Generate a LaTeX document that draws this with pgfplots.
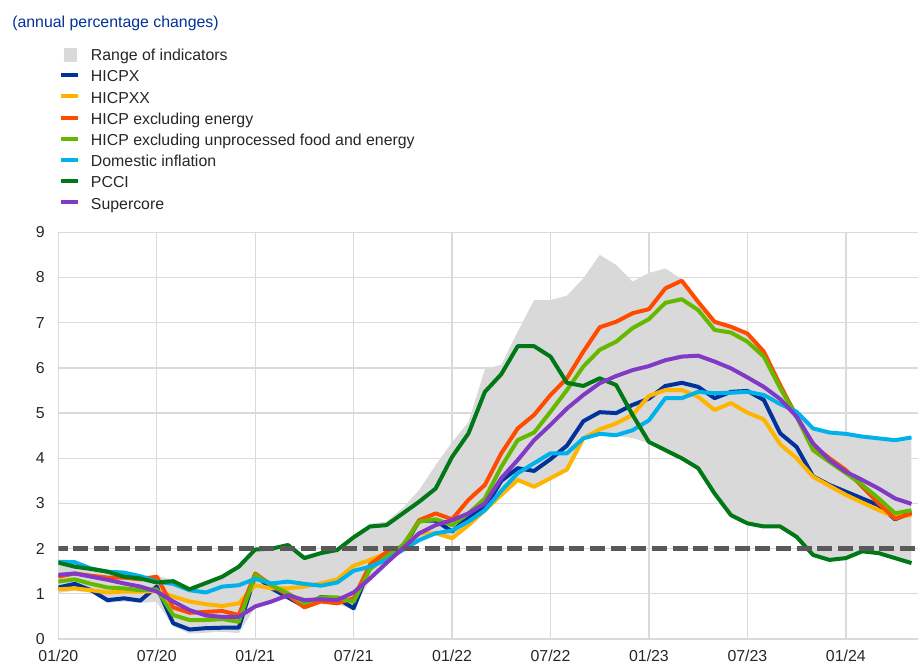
\documentclass[border=0pt]{standalone}
\usepackage{fontspec}
\setmainfont{Liberation Sans}
\usepackage{pgfplots}
\pgfplotsset{compat=1.18}
\usepackage{pgfplotstable}
\usepgfplotslibrary{fillbetween}
\definecolor{cHICPX}{RGB}{0,50,153}
\definecolor{cHICPXX}{RGB}{255,180,0}
\definecolor{cExEn}{RGB}{255,75,0}
\definecolor{cExUFE}{RGB}{101,184,0}
\definecolor{cDom}{RGB}{0,177,234}
\definecolor{cPCCI}{RGB}{0,120,22}
\definecolor{cSup}{RGB}{129,57,198}
\definecolor{cBand}{RGB}{217,217,217}
\definecolor{cGrid}{RGB}{218,218,218}
\definecolor{cDash}{RGB}{89,89,89}
\definecolor{cTitle}{RGB}{0,50,153}
\definecolor{cText}{RGB}{38,38,38}

\pgfplotstableread{
m hicpx hicpxx exen exufe dom pcci sup lo hi
0 1.14 1.10 1.38 1.27 1.71 1.69 1.42 1.02 1.73
1 1.22 1.12 1.45 1.32 1.70 1.60 1.45 1.07 1.72
2 1.08 1.08 1.40 1.22 1.56 1.55 1.38 1.02 1.58
3 0.86 1.03 1.36 1.14 1.49 1.49 1.31 0.80 1.51
4 0.90 1.05 1.36 1.12 1.47 1.38 1.23 0.83 1.49
5 0.85 1.05 1.32 1.08 1.39 1.34 1.16 0.80 1.41
6 1.16 1.06 1.38 1.10 1.27 1.25 1.05 0.82 1.40
7 0.35 0.94 0.70 0.53 1.22 1.28 0.83 0.28 1.30
8 0.21 0.83 0.58 0.42 1.08 1.10 0.64 0.12 1.12
9 0.24 0.77 0.60 0.42 1.03 1.24 0.52 0.14 1.26
10 0.25 0.73 0.62 0.44 1.16 1.38 0.49 0.16 1.40
11 0.25 0.79 0.53 0.38 1.19 1.60 0.49 0.13 1.62
12 1.40 1.19 1.45 1.42 1.33 1.98 0.72 0.70 2.00
13 1.12 1.12 1.19 1.19 1.23 2.00 0.83 0.81 2.02
14 0.92 1.12 0.97 1.01 1.27 2.08 0.97 0.90 2.10
15 0.72 1.16 0.70 0.79 1.22 1.79 0.86 0.68 1.86
16 0.93 1.23 0.83 0.92 1.18 1.90 0.88 0.81 1.93
17 0.90 1.32 0.79 0.92 1.25 1.97 0.86 0.77 2.00
18 0.68 1.62 0.90 0.82 1.51 2.25 1.03 0.65 2.30
19 1.60 1.75 1.65 1.55 1.60 2.49 1.34 1.32 2.55
20 1.90 1.90 1.92 1.82 1.75 2.52 1.68 1.66 2.60
21 2.00 2.06 2.05 2.08 1.97 2.78 2.01 1.95 2.90
22 2.62 2.34 2.63 2.60 2.19 3.04 2.34 2.17 3.30
23 2.62 2.34 2.78 2.65 2.34 3.33 2.52 2.32 3.85
24 2.38 2.23 2.65 2.52 2.40 4.03 2.63 2.21 4.35
25 2.70 2.52 3.08 2.78 2.60 4.55 2.78 2.50 4.80
26 2.90 2.85 3.41 3.11 2.85 5.47 3.00 2.83 5.97
27 3.50 3.19 4.11 3.81 3.28 5.86 3.56 3.17 6.07
28 3.78 3.52 4.66 4.40 3.67 6.48 3.96 3.50 6.80
29 3.72 3.37 4.96 4.57 3.89 6.48 4.40 3.35 7.50
30 3.98 3.56 5.40 5.03 4.11 6.25 4.74 3.54 7.50
31 4.28 3.75 5.77 5.51 4.11 5.67 5.10 3.73 7.60
32 4.82 4.44 6.36 6.03 4.44 5.60 5.40 4.42 7.98
33 5.02 4.64 6.90 6.40 4.54 5.77 5.66 4.52 8.50
34 5.00 4.77 7.02 6.58 4.51 5.62 5.82 4.49 8.28
35 5.18 4.96 7.21 6.88 4.62 4.96 5.95 4.45 7.91
36 5.32 5.38 7.30 7.08 4.84 4.36 6.04 4.33 8.10
37 5.60 5.51 7.76 7.44 5.33 4.18 6.17 4.15 8.20
38 5.67 5.51 7.93 7.52 5.33 4.00 6.25 3.97 7.96
39 5.58 5.36 7.46 7.28 5.47 3.78 6.27 3.75 7.48
40 5.33 5.07 7.02 6.84 5.44 3.22 6.14 3.19 7.04
41 5.47 5.22 6.91 6.78 5.45 2.74 5.99 2.71 6.93
42 5.49 5.01 6.76 6.58 5.47 2.56 5.79 2.53 6.78
43 5.29 4.86 6.36 6.25 5.40 2.49 5.58 2.46 6.38
44 4.55 4.31 5.62 5.55 5.20 2.49 5.31 2.46 5.64
45 4.25 4.00 4.92 4.92 5.03 2.26 4.92 2.23 5.05
46 3.60 3.59 4.29 4.18 4.66 1.86 4.33 1.83 4.68
47 3.41 3.39 4.00 3.92 4.57 1.75 3.96 1.72 4.59
48 3.26 3.19 3.74 3.67 4.54 1.79 3.70 1.76 4.56
49 3.11 3.02 3.37 3.41 4.48 1.94 3.52 1.91 4.50
50 2.96 2.85 3.00 3.11 4.44 1.90 3.33 1.87 4.46
51 2.65 2.71 2.66 2.78 4.40 1.79 3.11 1.76 4.42
52 2.80 2.74 2.78 2.85 4.46 1.68 2.99 1.65 4.48
}\data

\begin{document}
\begin{tikzpicture}
\begin{axis}[
  set layers,
  at={(0,0)}, anchor=south west,
  scale only axis, width=644.8pt, height=305pt,
  xmin=0, xmax=52.4, ymin=0, ymax=9,
  xtick={0,6,...,48},
  xticklabels={01/20,07/20,01/21,07/21,01/22,07/22,01/23,07/23,01/24},
  ytick={0,1,...,9},
  grid=major,
  major grid style={draw=cGrid, line width=1pt},
  axis line style={draw=none},
  tick style={draw=none},
  major tick length=0pt,
  /pgf/number format/assume math mode=true,
  tick label style={font=\fontsize{11.9pt}{14pt}\selectfont, text=cText, inner sep=0pt},
  yticklabel style={anchor=east, xshift=-10pt},
  xticklabel style={anchor=north, yshift=-7.9pt},
  legend style={at={(0,1)}, anchor=north west, xshift=0.75pt, yshift=138.2pt,
    draw=none, fill=none, inner sep=0pt, outer sep=0pt,
    row sep=3.4pt, column sep=8.25pt,
    font=\fontsize{11.9pt}{14pt}\selectfont,
    cells={anchor=base west},
    nodes={inner sep=0pt, text height=9.5pt, text depth=3pt, text=cText}},
  legend image code/.code={\draw[#1, line width=3pt, line cap=butt, dash pattern=] (0pt,5pt) -- (12.5pt,5pt);},
  every axis plot/.append style={line width=3pt, line join=round},
]
\addplot[name path=U, draw=none, forget plot] table[x=m, y=hi]{\data};
\addplot[name path=L, draw=none, forget plot] table[x=m, y=lo]{\data};
\addplot[fill=cBand, draw=none,
  legend image code/.code={\fill[cBand] (2pt,-0.6pt) rectangle (11.8pt,9.2pt); \path (0pt,0pt) -- (12.5pt,0pt);}]
  fill between[of=U and L];
\addlegendentry{Range of indicators}
\addplot[cHICPX] table[x=m, y=hicpx]{\data};
\addlegendentry{HICPX}
\addplot[cHICPXX] table[x=m, y=hicpxx]{\data};
\addlegendentry{HICPXX}
\addplot[cExEn] table[x=m, y=exen]{\data};
\addlegendentry{HICP excluding energy}
\addplot[cExUFE] table[x=m, y=exufe]{\data};
\addlegendentry{HICP excluding unprocessed food and energy}
\addplot[cDom] table[x=m, y=dom]{\data};
\addlegendentry{Domestic inflation}
\addplot[cPCCI] table[x=m, y=pcci]{\data};
\addlegendentry{PCCI}
\addplot[cSup] table[x=m, y=sup]{\data};
\addlegendentry{Supercore}
\addplot[forget plot, cDash, line width=3.2pt, line cap=butt, dash pattern=on 11.25pt off 4.25pt, dash phase=4.3pt] coordinates {(0,2) (52.4,2)};
\end{axis}
\node[anchor=base west, text=cTitle, font=\fontsize{11.9pt}{14pt}\selectfont, inner sep=0pt] at (-34.7pt,458.5pt) {(annual percentage changes)};
\pgfresetboundingbox
\path[use as bounding box] (-43.725pt,-18.75pt) rectangle (644.775pt,479.25pt);
\end{tikzpicture}
\end{document}
